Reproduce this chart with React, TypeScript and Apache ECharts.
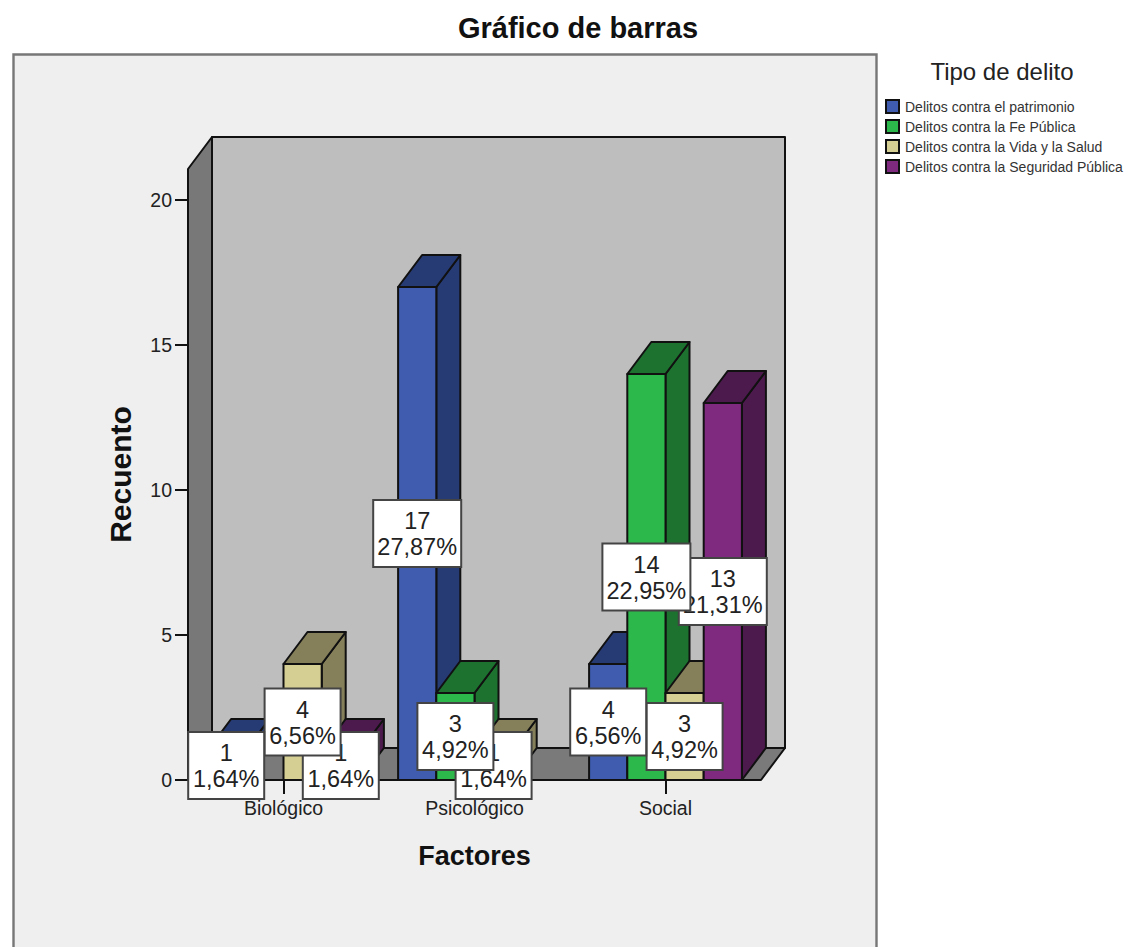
import React, { useEffect, useRef } from "react";
import * as echarts from "echarts";

const factors = ["Biológico", "Psicológico", "Social"];
const seriesNames = [
  "Delitos contra el patrimonio",
  "Delitos contra la Fe Pública",
  "Delitos contra la Vida y la Salud",
  "Delitos contra la Seguridad Pública",
];
const patrimonio = [1, 17, 4];
const fePublica = [null, 3, 14];
const vidaSalud = [4, 1, 3];
const seguridad = [1, null, 13];
const patrimonioPct = ["1,64%", "27,87%", "6,56%"];
const fePublicaPct = ["", "4,92%", "22,95%"];
const vidaSaludPct = ["6,56%", "1,64%", "4,92%"];
const seguridadPct = ["1,64%", "", "21,31%"];
const yTicks = [0, 5, 10, 15, 20];

const allValues = [patrimonio, fePublica, vidaSalud, seguridad];
const allPct = [patrimonioPct, fePublicaPct, vidaSaludPct, seguridadPct];
const frontColors = ["#3F5CAE", "#2DB84B", "#D6CF93", "#7F2A7F"];
const sideColors = ["#263A73", "#1D7230", "#857F5A", "#4D1A4D"];

const FONT = "Liberation Sans";
const DX = 24;
const DY = -32;
const EDGE = "#111";

function bar3d(seriesIndex: number) {
  return (params: any, api: any) => {
    const top = api.coord([api.value(0), api.value(1)]);
    const base = api.coord([api.value(0), 0]);
    const slot = api.size([1, 0])[0] * 0.2;
    const x0 = top[0] + (seriesIndex - 2) * slot;
    const x1 = x0 + slot;
    const yT = top[1];
    const yB = base[1];
    const edge = { stroke: EDGE, lineWidth: 2, lineJoin: "round" };
    return {
      type: "group",
      children: [
        {
          type: "polygon",
          shape: { points: [[x1, yT], [x1 + DX, yT + DY], [x1 + DX, yB + DY], [x1, yB]] },
          style: { fill: sideColors[seriesIndex], ...edge },
        },
        {
          type: "polygon",
          shape: { points: [[x0, yT], [x0 + DX, yT + DY], [x1 + DX, yT + DY], [x1, yT]] },
          style: { fill: sideColors[seriesIndex], ...edge },
        },
        {
          type: "rect",
          shape: { x: x0, y: yT, width: slot, height: yB - yT },
          style: { fill: frontColors[seriesIndex], ...edge },
        },
      ],
    };
  };
}

function walls(params: any) {
  const { x, y, width: w, height: h } = params.coordSys;
  const edge = { stroke: EDGE, lineWidth: 2, lineJoin: "round" };
  return {
    type: "group",
    children: [
      {
        type: "rect",
        shape: { x: x + DX, y: y + DY, width: w, height: h },
        style: { fill: "#BEBEBE", ...edge },
      },
      {
        type: "polygon",
        shape: { points: [[x, y], [x + DX, y + DY], [x + DX, y + h + DY], [x, y + h]] },
        style: { fill: "#787878", ...edge },
      },
      {
        type: "polygon",
        shape: { points: [[x, y + h], [x + DX, y + h + DY], [x + w + DX, y + h + DY], [x + w, y + h]] },
        style: { fill: "#7A7A7A", ...edge },
      },
    ],
  };
}

// labels are painted from the last series to the first, as in the reference
const labelItems: { cat: number; value: number; s: number; pct: string }[] = [];
for (let s = allValues.length - 1; s >= 0; s--) {
  allValues[s].forEach((v, cat) => {
    if (v != null) labelItems.push({ cat, value: v, s, pct: allPct[s][cat] });
  });
}

function labelBox(params: any, api: any) {
  const it = labelItems[params.dataIndex];
  const mid = api.coord([api.value(0), api.value(1) / 2]);
  const slot = api.size([1, 0])[0] * 0.2;
  const cx = mid[0] + (it.s - 1.5) * slot;
  const cy = mid[1];
  const bw = it.pct.length > 5 ? 88 : 76;
  const bh = 67;
  return {
    type: "group",
    children: [
      {
        type: "rect",
        shape: { x: cx - bw / 2, y: cy - bh / 2, width: bw, height: bh },
        style: { fill: "#FFFFFF", stroke: "#444", lineWidth: 2 },
      },
      {
        type: "text",
        style: {
          x: cx,
          y: cy + 0.5,
          text: `${it.value}\n${it.pct}`,
          fontFamily: FONT,
          fontSize: 23.5,
          lineHeight: 26,
          align: "center",
          verticalAlign: "middle",
          textAlign: "center",
          textVerticalAlign: "middle",
          fill: "#222",
        },
      },
    ],
  };
}

export default function App() {
  const ref = useRef<HTMLDivElement>(null);
  useEffect(() => {
    document.body.style.margin = "0";
    const chart = echarts.init(ref.current!, null, { renderer: "svg" });
    chart.setOption({
      animation: false,
      backgroundColor: "#FFFFFF",
      title: {
        text: "Gráfico de barras",
        left: 573,
        top: 8,
        textAlign: "center",
        textStyle: { fontFamily: FONT, fontSize: 29, fontWeight: "bold", color: "#111" },
      },
      legend: {
        data: seriesNames,
        orient: "vertical",
        left: 885,
        top: 99,
        icon: "rect",
        itemWidth: 13,
        itemHeight: 13,
        itemGap: 5,
        padding: 0,
        selectedMode: false,
        textStyle: { fontFamily: FONT, fontSize: 14, color: "#333", padding: [0, 0, 0, 1] },
      },
      graphic: [
        {
          type: "rect",
          z: -10,
          shape: { x: 13.5, y: 54.5, width: 863, height: 1000 },
          style: { fill: "#EFEFEF", stroke: "#777", lineWidth: 2.4 },
        },
        {
          type: "text",
          x: 1002,
          y: 71,
          style: {
            text: "Tipo de delito",
            fontFamily: FONT,
            fontSize: 24,
            fill: "#222",
            align: "center",
            verticalAlign: "middle",
            textAlign: "center",
            textVerticalAlign: "middle",
          },
        },
      ],
      grid: { left: 188, top: 169, width: 573, height: 611, containLabel: false },
      xAxis: {
        type: "category",
        data: factors,
        name: "Factores",
        nameLocation: "middle",
        nameGap: 62,
        nameTextStyle: { fontFamily: FONT, fontSize: 27, fontWeight: "bold", color: "#111" },
        axisLine: { show: false },
        axisTick: { show: true, alignWithLabel: true, length: 14, lineStyle: { color: EDGE, width: 2 } },
        axisLabel: { fontFamily: FONT, fontSize: 19.5, color: "#222", margin: 18 },
        splitLine: { show: false },
      },
      yAxis: {
        type: "value",
        min: 0,
        max: 21.07,
        interval: 5,
        name: "Recuento",
        nameLocation: "middle",
        nameGap: 53,
        nameRotate: 90,
        nameTextStyle: { fontFamily: FONT, fontSize: 30, fontWeight: "bold", color: "#111" },
        axisLine: { show: false },
        axisTick: { show: true, length: 13, customValues: yTicks, lineStyle: { color: EDGE, width: 2 } },
        axisLabel: { fontFamily: FONT, fontSize: 19.5, color: "#222", margin: 16, customValues: yTicks },
        splitLine: { show: false },
      },
      series: [
        {
          type: "custom",
          coordinateSystem: "cartesian2d",
          silent: true,
          clip: false,
          z: 1,
          data: [[0, 0]],
          renderItem: walls,
        },
        ...seriesNames.map((name, s) => ({
          type: "custom",
          name,
          coordinateSystem: "cartesian2d",
          clip: false,
          z: 2,
          itemStyle: { color: frontColors[s], borderColor: EDGE, borderWidth: 2 },
          encode: { x: 0, y: 1 },
          data: allValues[s]
            .map((v, i) => (v == null ? null : [factors[i], v]))
            .filter((d) => d != null),
          renderItem: bar3d(s),
        })),
        {
          type: "custom",
          coordinateSystem: "cartesian2d",
          silent: true,
          clip: false,
          z: 5,
          encode: { x: 0, y: 1 },
          data: labelItems.map((it) => [factors[it.cat], it.value]),
          renderItem: labelBox,
        },
      ],
    });
    return () => chart.dispose();
  }, []);
  return <div ref={ref} style={{ width: 1136, height: 947 }} />;
}
